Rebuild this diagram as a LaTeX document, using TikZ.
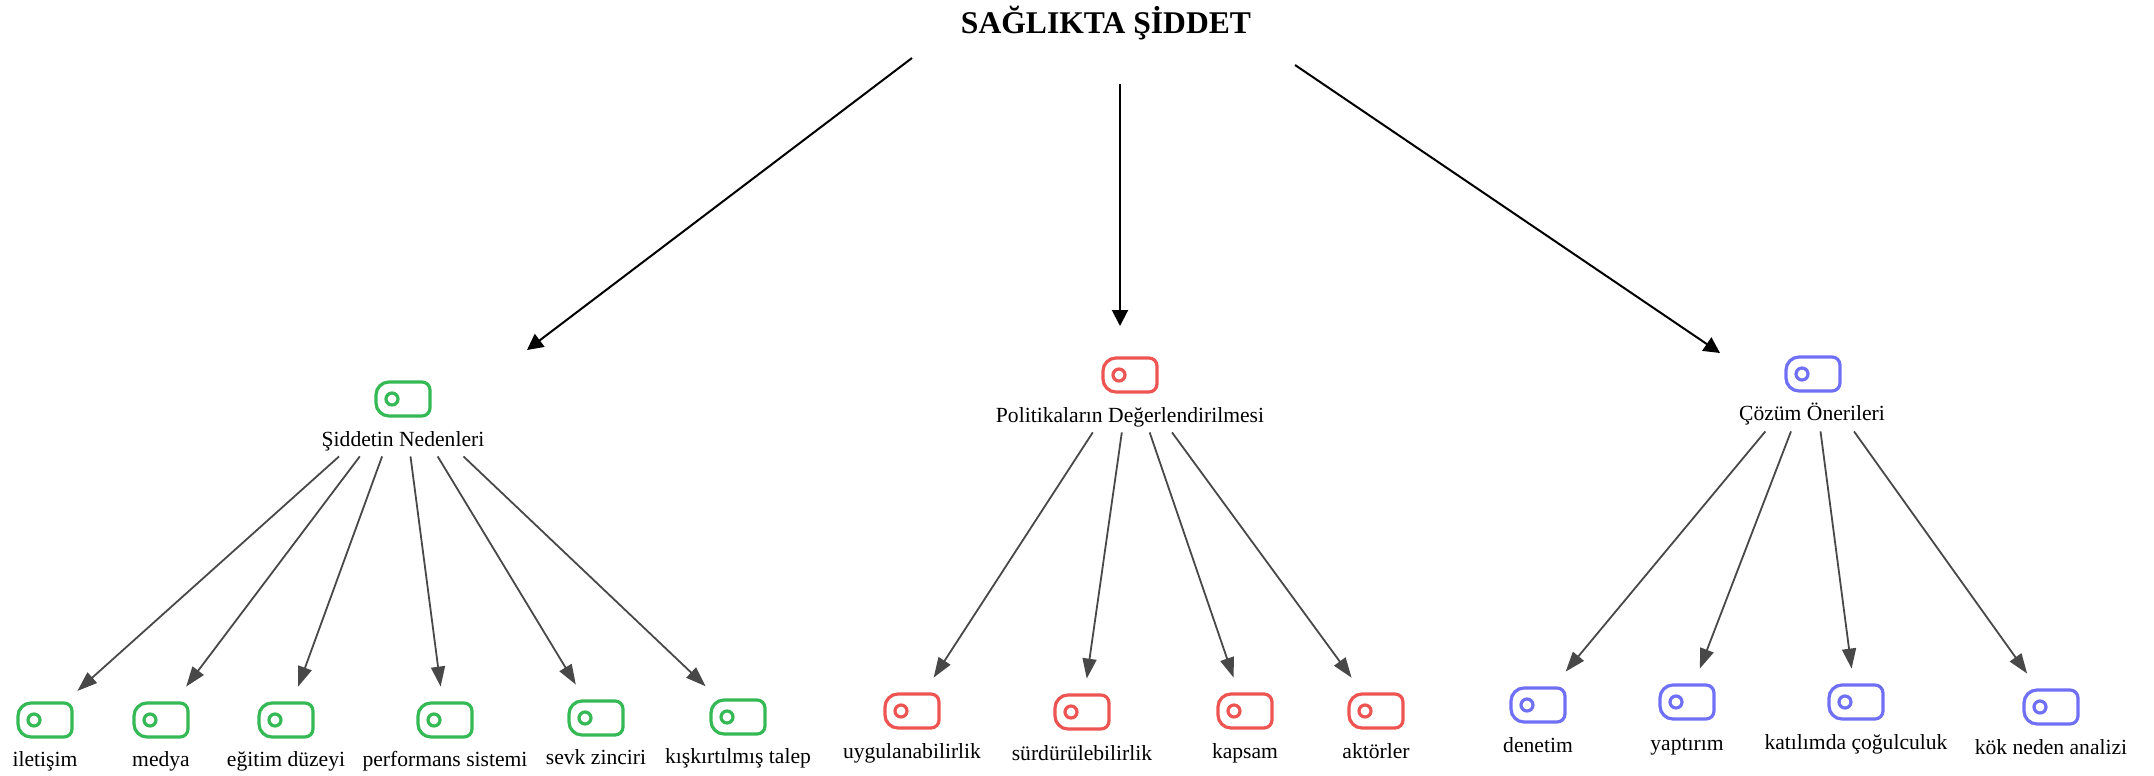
\documentclass[tikz,border=0pt]{standalone}
\usepackage{fontspec}
\setmainfont{Liberation Serif}
\usetikzlibrary{arrows.meta}
\definecolor{catgreen}{RGB}{52,185,84}
\definecolor{catred}{RGB}{238,84,82}
\definecolor{catblue}{RGB}{112,112,246}
\definecolor{edgegray}{RGB}{72,72,72}
\tikzset{
  % tag-shaped icon: round left end, small right corners, ring near the left
  tagicon/.pic={
    \draw[line width=1.6pt, pic actions]
      (-14,-17) -- (19,-17)
      arc[start angle=-90, end angle=0, radius=8] -- (27,9)
      arc[start angle=0, end angle=90, radius=8] -- (-14,17)
      arc[start angle=90, end angle=180, radius=13] -- (-27,-4)
      arc[start angle=180, end angle=270, radius=13] -- cycle;
    \draw[line width=1.6pt, pic actions] (-11,0) circle[radius=6];
  },
  catbox/.style={rectangle, inner sep=0pt, minimum width=82pt, minimum height=57pt},
  leafbox/.style={rectangle, inner sep=0pt, minimum width=32pt, minimum height=33pt},
  lbl/.style={anchor=base, inner sep=0pt, font=\fontsize{10.8}{13}\selectfont},
  titletext/.style={anchor=base, inner sep=0pt, font=\bfseries\fontsize{15.8}{19}\selectfont},
  mainarrow/.style={draw=black, line width=1pt, -{Triangle[length=8pt,width=8pt]}},
  subarrow/.style={draw=edgegray, line width=0.9pt, -{Triangle[length=10pt,width=7pt]}},
}
\begin{document}
\begin{tikzpicture}[x=0.5pt, y=-0.5pt]
\useasboundingbox (0,0) rectangle (2154,776);

% title
\node[titletext] (title) at (1106,33) {SAĞLIKTA ŞİDDET};

% category nodes
\node[catbox] (c1) at (403,399) {};
\node[catbox] (c2) at (1130,375) {};
\node[catbox] (c3) at (1813,374) {};
\pic[draw=catgreen] at (c1) {tagicon};
\pic[draw=catred] at (c2) {tagicon};
\pic[draw=catblue] at (c3) {tagicon};
\node[lbl] (c1t) at (403,446) {Şiddetin Nedenleri};
\node[lbl] (c2t) at (1130,422) {Politikaların Değerlendirilmesi};
\node[lbl] (c3t) at (1812,420) {Çözüm Önerileri};

% title arrows
\coordinate (a1s) at (912,58);   \coordinate (a1e) at (527,350);
\coordinate (a2s) at (1120,84);  \coordinate (a2e) at (1120,326);
\coordinate (a3s) at (1295,65);  \coordinate (a3e) at (1720,353);
\draw[mainarrow] (a1s) -- (a1e);
\draw[mainarrow] (a2s) -- (a2e);
\draw[mainarrow] (a3s) -- (a3e);

% causes
\foreach \n/\x/\y/\b/\t in {
  g1/45/720/766/iletişim,
  g2/161/720/766/medya,
  g3/286/720/766/eğitim düzeyi,
  g4/445/720/766/performans sistemi,
  g5/596/718/764/sevk zinciri,
  g6/738/717/763/kışkırtılmış talep}{
  \node[leafbox] (\n) at (\x,\y) {};
  \pic[draw=catgreen] at (\n) {tagicon};
  \node[lbl] (\n t) at (\x,\b) {\t};
  \draw[subarrow] (c1) -- (\n);
}

% policy evaluation
\foreach \n/\x/\y/\b/\t in {
  r1/912/711/758/uygulanabilirlik,
  r2/1082/712/760/sürdürülebilirlik,
  r3/1245/711/758/kapsam,
  r4/1376/711/758/aktörler}{
  \node[leafbox] (\n) at (\x,\y) {};
  \pic[draw=catred] at (\n) {tagicon};
  \node[lbl] (\n t) at (\x,\b) {\t};
  \draw[subarrow] (c2) -- (\n);
}

% proposed solutions
\foreach \n/\x/\y/\b/\t in {
  b1/1538/705/752/denetim,
  b2/1687/702/750/yaptırım,
  b3/1856/702/749/katılımda çoğulculuk,
  b4/2051/707/754/kök neden analizi}{
  \node[leafbox] (\n) at (\x,\y) {};
  \pic[draw=catblue] at (\n) {tagicon};
  \node[lbl] (\n t) at (\x,\b) {\t};
  \draw[subarrow] (c3) -- (\n);
}
\end{tikzpicture}
\end{document}
